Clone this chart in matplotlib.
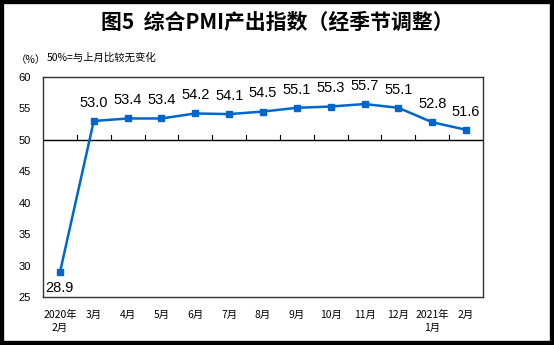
import matplotlib
matplotlib.use("Agg")
import matplotlib.pyplot as plt
from matplotlib.patches import Rectangle

plt.rcParams['font.family'] = ['Noto Sans CJK SC', 'DejaVu Sans']

categories = ["2020年\n2月", "3月", "4月", "5月", "6月", "7月", "8月", "9月",
              "10月", "11月", "12月", "2021年\n1月", "2月"]
values = [28.9, 53.0, 53.4, 53.4, 54.2, 54.1, 54.5, 55.1, 55.3, 55.7, 55.1, 52.8, 51.6]
yticks = [25, 30, 35, 40, 45, 50, 55, 60]

W, H = 554, 345
fig = plt.figure(figsize=(W / 100, H / 100), dpi=100)
ax = fig.add_axes([43 / W, 1 - 297 / H, 440 / W, 220 / H])

color = '#0066CC'
x = list(range(len(values)))
ax.plot(x, values, color=color, lw=1.8, marker='s', ms=4.5, zorder=3, clip_on=False)

for xi, v in zip(x, values):
    if v < 40:
        ax.annotate(f"{v:.1f}", (xi, v), xytext=(0, -6), textcoords='offset points',
                    ha='center', va='top', fontsize=10.5, family='Liberation Sans')
    else:
        ax.annotate(f"{v:.1f}", (xi, v), xytext=(0, 8), textcoords='offset points',
                    ha='center', va='bottom', fontsize=10.5, family='Liberation Sans')

ax.set_xlim(-0.5, len(values) - 0.5)
ax.set_ylim(25, 60)
ax.set_yticks(yticks)
ax.set_yticklabels([str(t) for t in yticks], fontsize=8, family='Liberation Sans')
ax.tick_params(axis='y', length=0, pad=9)
ax.set_xticks([])
for s in ax.spines.values():
    s.set_color('#333333')
    s.set_linewidth(1.0)

# baseline at 50 with boundary ticks
ax.axhline(50, color='black', lw=1.0, zorder=2)
for b in range(1, len(values)):
    ax.plot([b - 0.5, b - 0.5], [50, 50.7], color='black', lw=0.8, zorder=2)

# category labels under axes
for xi, c in zip(x, categories):
    ax.text(xi, -0.06, c, transform=ax.get_xaxis_transform(), ha='center', va='top',
            fontsize=7.5, linespacing=1.3)

fig.text(0.5, 1 - 22 / H, "图5  综合PMI产出指数（经季节调整）", ha='center', va='center',
         fontsize=15, fontweight='bold')
fig.text(16 / W, 1 - 60 / H, "（%）", ha='left', va='center', fontsize=7.5)
fig.text(47 / W, 1 - 58 / H, "50%=与上月比较无变化", ha='left', va='center', fontsize=7.5)

fig.patches.append(Rectangle((0, 0), 1, 1, transform=fig.transFigure, fill=False,
                             edgecolor='black', lw=6, clip_on=False))

fig.savefig("out.png", dpi=100)
